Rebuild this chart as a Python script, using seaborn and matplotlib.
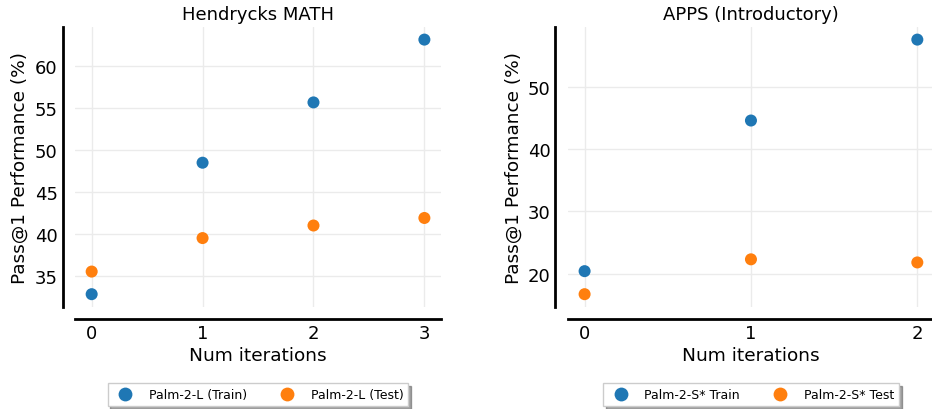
import pandas as pd
import matplotlib
matplotlib.use("Agg")
import matplotlib.pyplot as plt
import seaborn as sns

# Hendrycks MATH
math_iters = [0, 1, 2, 3]
math_train = [32.8, 48.5, 55.7, 63.2]
math_test = [35.5, 39.5, 41.0, 41.9]
math_labels = ["Palm-2-L (Train)", "Palm-2-L (Test)"]

# APPS (Introductory)
apps_iters = [0, 1, 2]
apps_train = [20.4, 44.6, 57.6]
apps_test = [16.7, 22.3, 21.8]
apps_labels = ["Palm-2-S* Train", "Palm-2-S* Test"]

titles = ["Hendrycks MATH", "APPS (Introductory)"]


def make_df(iters, train, test, labels):
    return pd.DataFrame({
        "iter": iters + iters,
        "value": train + test,
        "series": [labels[0]] * len(iters) + [labels[1]] * len(iters),
    })


sns.set_theme(style="whitegrid")
plt.rcParams["font.family"] = ["DejaVu Sans"]
plt.rcParams["grid.color"] = "#ebebeb"
for key in ["text.color", "axes.labelcolor", "xtick.color", "ytick.color"]:
    plt.rcParams[key] = "black"

fig = plt.figure(figsize=(9.32, 4.10), dpi=100)
ax1 = fig.add_axes([0.0805, 0.249, 0.3927, 0.683])
ax2 = fig.add_axes([0.6094, 0.249, 0.3927, 0.683])

panels = [
    (ax1, make_df(math_iters, math_train, math_test, math_labels), math_iters, titles[0]),
    (ax2, make_df(apps_iters, apps_train, apps_test, apps_labels), apps_iters, titles[1]),
]

for ax, df, iters, title in panels:
    sns.scatterplot(data=df, x="iter", y="value", hue="series",
                    palette=["#1f77b4", "#ff7f0e"], s=75, linewidth=0, ax=ax)
    ax.set_xticks(iters)
    ax.set_title(title, fontsize=13)
    ax.set_xlabel("Num iterations", fontsize=13.3, labelpad=3)
    ax.set_ylabel("Pass@1 Performance (%)", fontsize=13.3, labelpad=4)
    ax.tick_params(labelsize=13, length=0, pad=3.5)
    sns.despine(ax=ax, offset=9)
    for side in ["left", "bottom"]:
        ax.spines[side].set_color("black")
        ax.spines[side].set_linewidth(2)
    sns.move_legend(ax, "upper center", bbox_to_anchor=(0.5, -0.25), ncol=2,
                    title=None, frameon=True, shadow=True, fontsize=9,
                    markerscale=1.15, columnspacing=2.2, handletextpad=0.9,
                    fancybox=False)

fig.savefig("out.png", dpi=100)
